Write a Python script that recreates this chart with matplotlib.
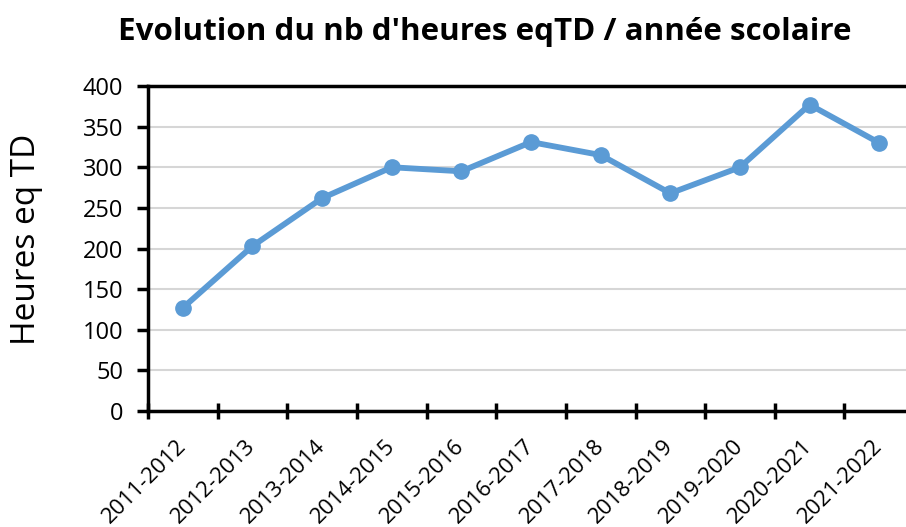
import matplotlib
matplotlib.use("Agg")
import matplotlib.pyplot as plt
import matplotlib.transforms as mtransforms
import numpy as np

# annees scolaires et heures eqTD
annees = ["2011-2012", "2012-2013", "2013-2014", "2014-2015", "2015-2016",
          "2016-2017", "2017-2018", "2018-2019", "2019-2020", "2020-2021",
          "2021-2022"]
heures = [127, 203, 262, 300, 295, 331, 315, 268, 300, 377, 330]
yticks = [0, 50, 100, 150, 200, 250, 300, 350, 400]

plt.rcParams["font.family"] = ["Open Sans", "DejaVu Sans"]

fig = plt.figure(figsize=(9.06, 5.27), dpi=100)
ax = fig.add_axes([0.1634, 0.2201, 0.8455, 0.6167])

x = np.arange(len(annees))
ax.plot(x, heures, color="#5B9BD5", lw=4.2, marker="o", ms=11,
        solid_capstyle="round", zorder=3, clip_on=False)

ax.set_ylim(0, 400)
ax.set_yticks(yticks)
ax.set_xlim(-0.5, len(annees) - 0.5)
# ticks between categories, labels at category centers
ax.set_xticks(np.arange(-0.5, len(annees) + 0.5, 1.0))
ax.set_xticklabels([])
ax.set_xticks(x, minor=True)
ax.set_xticklabels(annees, minor=True, rotation=45, ha="right",
                   va="center", rotation_mode="anchor", fontsize=16)
shift = mtransforms.ScaledTranslation(6 / 100, 0, fig.dpi_scale_trans)
for lab in ax.get_xticklabels(minor=True):
    lab.set_transform(lab.get_transform() + shift)
ax.tick_params(axis="x", which="minor", length=0, pad=23)
ax.tick_params(axis="x", which="major", direction="inout", length=12, width=2.5)
ax.tick_params(axis="y", direction="out", length=8, width=2.5, labelsize=17, pad=10)

ax.yaxis.grid(True, color="#D6D6D6", lw=1.5)
ax.set_axisbelow(True)
for s in ["left", "bottom", "top"]:
    ax.spines[s].set_linewidth(2.5)
    ax.spines[s].set_color("black")
ax.spines["right"].set_visible(False)

fig.text(27 / 906, 0.545, "Heures eq TD", rotation=90, ha="center",
         va="center", fontsize=24)
fig.text(0.535, 0.94, "Evolution du nb d'heures eqTD / année scolaire",
         ha="center", va="center", fontsize=22.6, fontweight="bold")

fig.savefig("out.png", dpi=100)
